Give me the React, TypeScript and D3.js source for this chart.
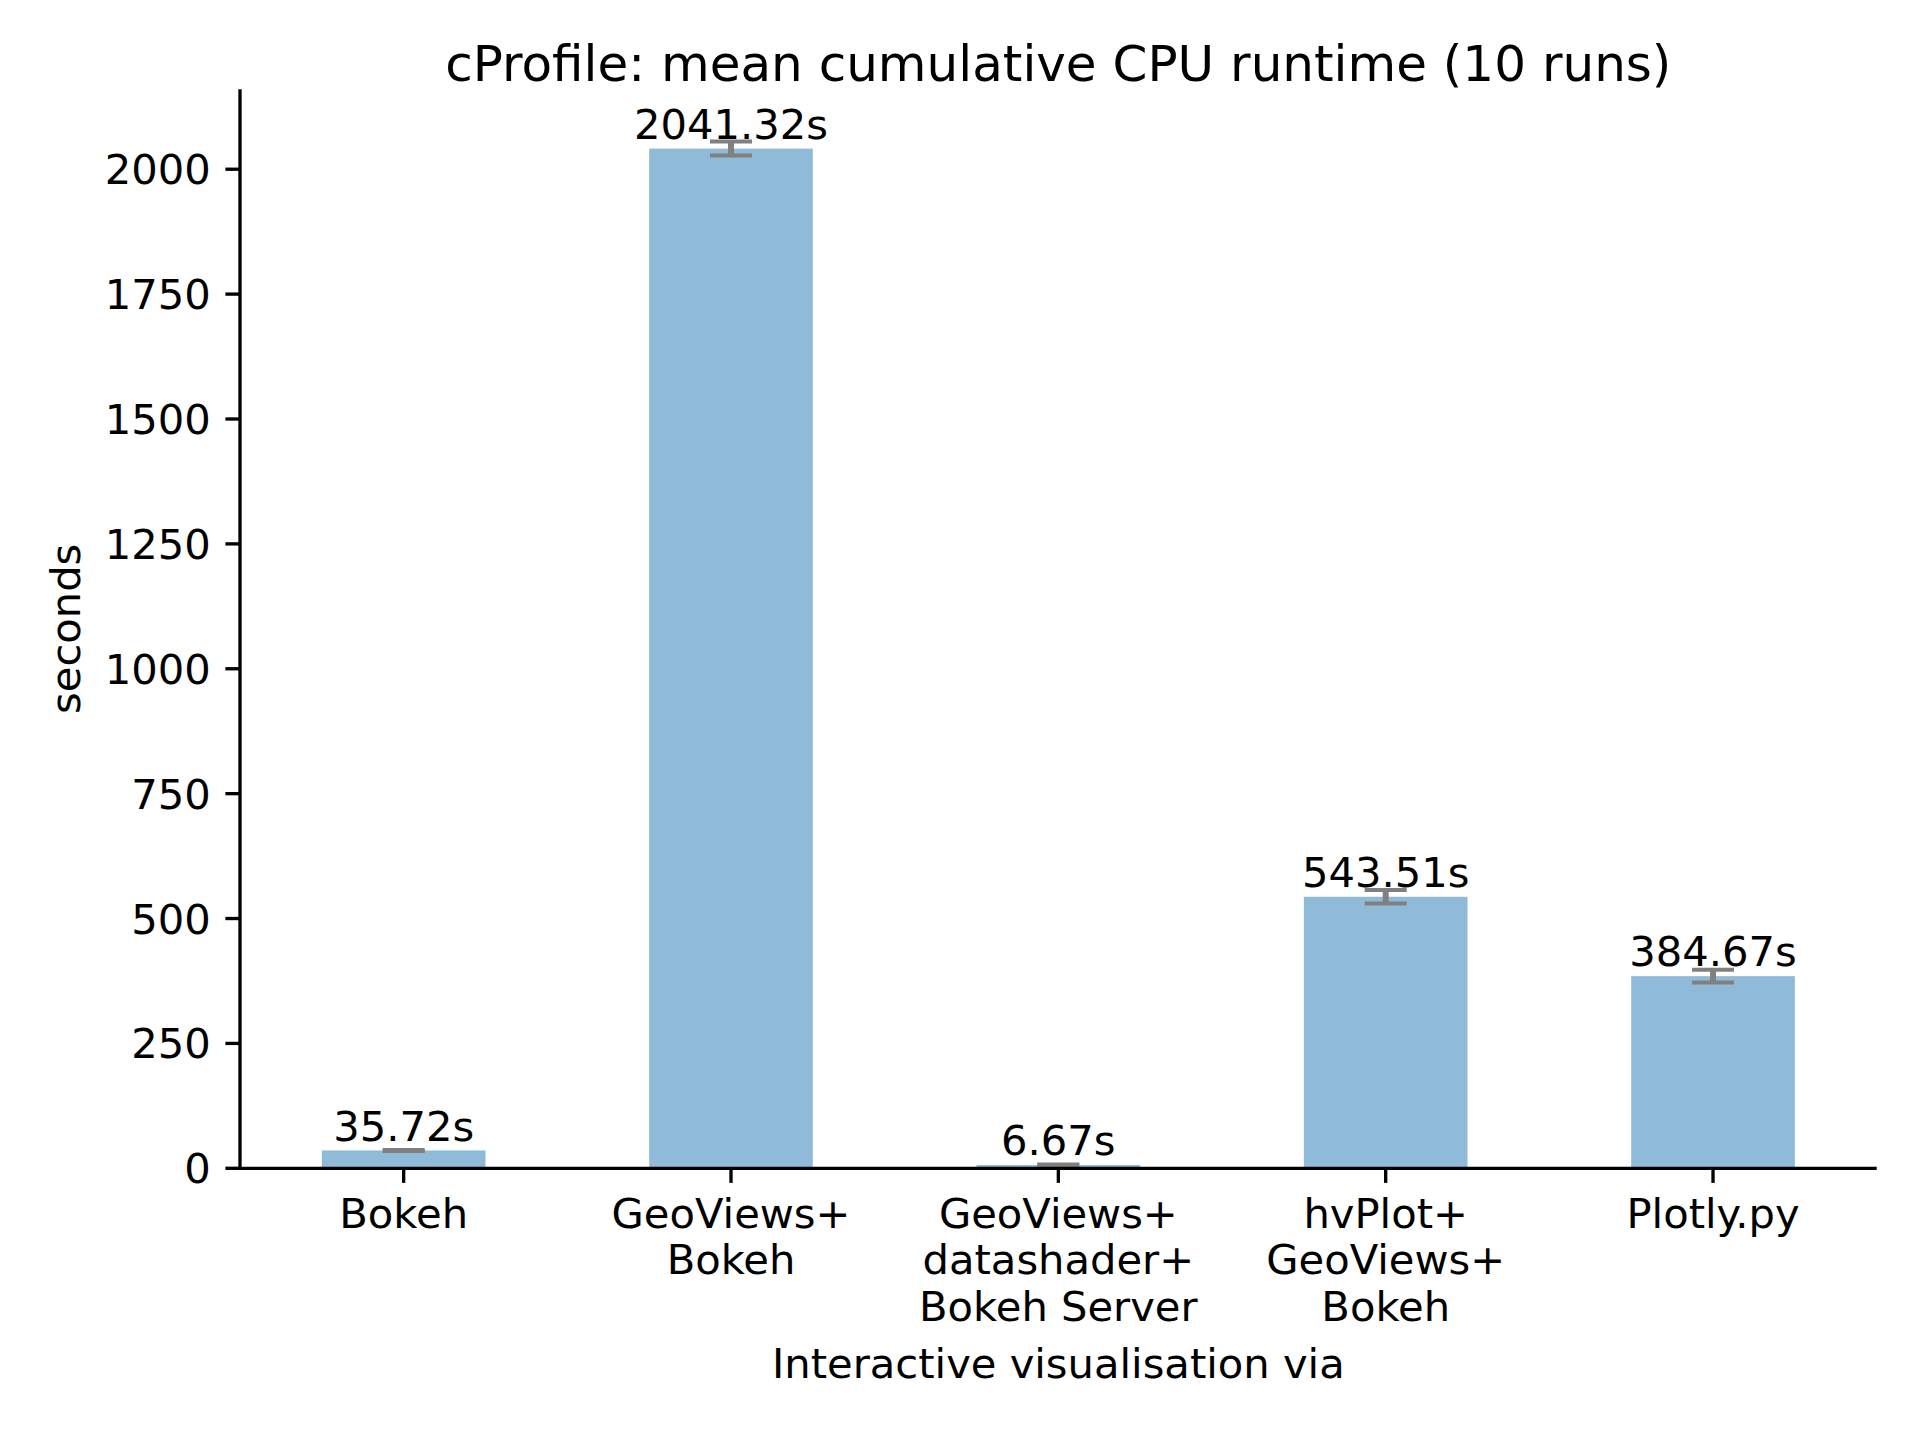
import React from "react";
import * as d3 from "d3";

const categories: string[][] = [
  ["Bokeh"],
  ["GeoViews+", "Bokeh"],
  ["GeoViews+", "datashader+", "Bokeh Server"],
  ["hvPlot+", "GeoViews+", "Bokeh"],
  ["Plotly.py"],
];
const means: number[] = [35.72, 2041.32, 6.67, 543.51, 384.67];
const errors: number[] = [1.0, 14.0, 0.8, 13.4, 12.7];
const yTicks: number[] = [0, 250, 500, 750, 1000, 1250, 1500, 1750, 2000];
const title = "cProfile: mean cumulative CPU runtime (10 runs)";
const xLabel = "Interactive visualisation via";
const yLabel = "seconds";

const W = 1920;
const H = 1440;
const L = 240;
const R = 1876.7;
const T = 89.3;
const B = 1168.3;
const FONT = "'DejaVu Sans', sans-serif";
const FS = 41.67;

export default function App() {
  const ids = categories.map((_, i) => String(i));
  const x = d3.scaleBand<string>().domain(ids).range([L, R]).paddingInner(0.5).paddingOuter(0.25);
  const y = d3.scaleLinear().domain([0, 2160]).range([B, T]);
  const bw = x.bandwidth();
  const capHalf = 21;

  return (
    <svg
      width={W}
      height={H}
      viewBox={`0 0 ${W} ${H}`}
      style={{ position: "absolute", left: 0, top: 0, background: "#fff" }}
      fontFamily={FONT}
    >
      <rect x={0} y={0} width={W} height={H} fill="#fff" />
      {/* bars */}
      {means.map((v, i) => (
        <rect
          key={"b" + i}
          x={x(ids[i])!}
          y={y(v)}
          width={bw}
          height={B - y(v)}
          fill="#1f77b4"
          fillOpacity={0.5}
        />
      ))}
      {/* error bars */}
      {means.map((v, i) => {
        const cx = x(ids[i])! + bw / 2;
        const y1 = y(v + errors[i]);
        const y0 = y(v - errors[i]);
        return (
          <g key={"e" + i} stroke="#808080">
            <line x1={cx} x2={cx} y1={y1} y2={y0} strokeWidth={6} />
            <line x1={cx - capHalf} x2={cx + capHalf} y1={y1} y2={y1} strokeWidth={4} />
            <line x1={cx - capHalf} x2={cx + capHalf} y1={y0} y2={y0} strokeWidth={4} />
          </g>
        );
      })}
      {/* bar labels */}
      {means.map((v, i) => (
        <text
          key={"l" + i}
          x={x(ids[i])! + bw / 2}
          y={y(v) - 9.8}
          textAnchor="middle"
          fontSize={FS}
          fill="#000"
        >
          {v.toFixed(2) + "s"}
        </text>
      ))}
      {/* spines */}
      <line x1={L} x2={L} y1={T} y2={B + 1.67} stroke="#000" strokeWidth={3.33} />
      <line x1={L - 1.67} x2={R} y1={B} y2={B} stroke="#000" strokeWidth={3.33} />
      {/* y ticks */}
      {yTicks.map((t) => (
        <g key={"yt" + t}>
          <line x1={L - 14.6} x2={L} y1={y(t)} y2={y(t)} stroke="#000" strokeWidth={3.33} />
          <text
            x={L - 29.2}
            y={y(t)}
            dy="0.36em"
            textAnchor="end"
            fontSize={FS}
            fill="#000"
          >
            {t}
          </text>
        </g>
      ))}
      {/* x ticks */}
      {categories.map((lines, i) => {
        const cx = x(ids[i])! + bw / 2;
        return (
          <g key={"xt" + i}>
            <line x1={cx} x2={cx} y1={B} y2={B + 14.6} stroke="#000" strokeWidth={3.33} />
            {lines.map((ln, j) => (
              <text
                key={j}
                x={cx}
                y={1228 + j * 46.3}
                textAnchor="middle"
                fontSize={FS}
                fill="#000"
              >
                {ln}
              </text>
            ))}
          </g>
        );
      })}
      {/* title and labels */}
      <text x={(L + R) / 2} y={81} textAnchor="middle" fontSize={50} fill="#000">
        {title}
      </text>
      <text x={(L + R) / 2} y={1378.3} textAnchor="middle" fontSize={FS} fill="#000">
        {xLabel}
      </text>
      <text
        transform={`translate(80, ${(T + B) / 2}) rotate(-90)`}
        textAnchor="middle"
        fontSize={FS}
        fill="#000"
      >
        {yLabel}
      </text>
    </svg>
  );
}
